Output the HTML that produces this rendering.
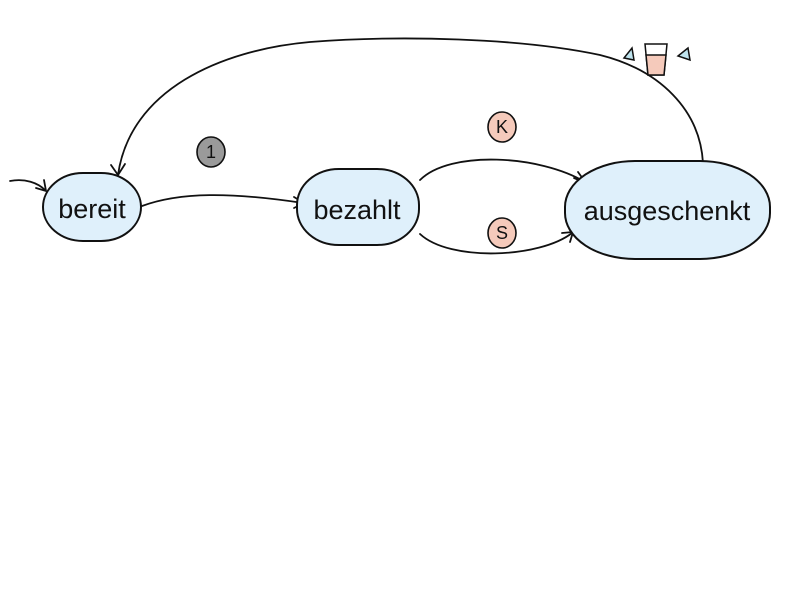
<!DOCTYPE html>
<html><head><style>
html,body{margin:0;padding:0;background:#fff;}
svg{display:block}
text{font-family:"Liberation Sans Narrow","Liberation Sans",sans-serif;}
</style></head><body>
<svg width="800" height="600" viewBox="0 0 800 600">
<g fill="none" stroke="#111" stroke-width="1.8" stroke-linecap="round">
<path d="M703,163 C700,110 660,70 600,55 C520,38 400,35 310,42 C220,50 130,90 118,175"/>
<path d="M111,165 L118,175 L125,164"/>
<path d="M10,181 C25,178 38,183 45,190"/>
<path d="M36,188 L46,191 L44,180"/>
<path d="M142,206 C180,192 230,192 303,203"/>
<path d="M294,197 L304,203 L294,208"/>
<path d="M420,180 C450,150 540,155 585,182"/>
<path d="M574,178 L586,183 L578,172"/>
<path d="M420,234 C450,262 540,258 572,233"/>
<path d="M562,233 L573,232 L570,242"/>
</g>
<g stroke="#111" stroke-width="2" fill="#dff0fb">
<rect x="43" y="173" width="98" height="68" rx="40" ry="34"/>
<rect x="297" y="169" width="122" height="76" rx="42" ry="36"/>
<rect x="565" y="161" width="205" height="98" rx="70" ry="46"/>
</g>
<g font-size="27" fill="#111" text-anchor="middle">
<text x="92" y="218">bereit</text>
<text x="357" y="219">bezahlt</text>
<text x="667" y="220">ausgeschenkt</text>
</g>
<g stroke="#111" stroke-width="1.6">
<ellipse cx="211" cy="152" rx="14" ry="15" fill="#9a9a9a"/>
<ellipse cx="502" cy="127" rx="14" ry="15" fill="#f5cabb"/>
<ellipse cx="502" cy="233" rx="14" ry="15" fill="#f5cabb"/>
</g>
<g font-size="18" fill="#111" text-anchor="middle">
<text x="211" y="158">1</text>
<text x="502" y="133">K</text>
<text x="502" y="239">S</text>
</g>
<g stroke="#111" stroke-width="1.5">
<path d="M645,44 L667,44 L664,75 L648,75 Z" fill="#fff"/>
<path d="M646,55 L666,55 L664,75 L648,75 Z" fill="#f5cabb"/>
<path d="M624,58 L632,48 L634,60 Z" fill="#bfe4ee"/>
<path d="M688,48 L678,56 L690,60 Z" fill="#bfe4ee"/>
</g>
</svg>
</body></html>
